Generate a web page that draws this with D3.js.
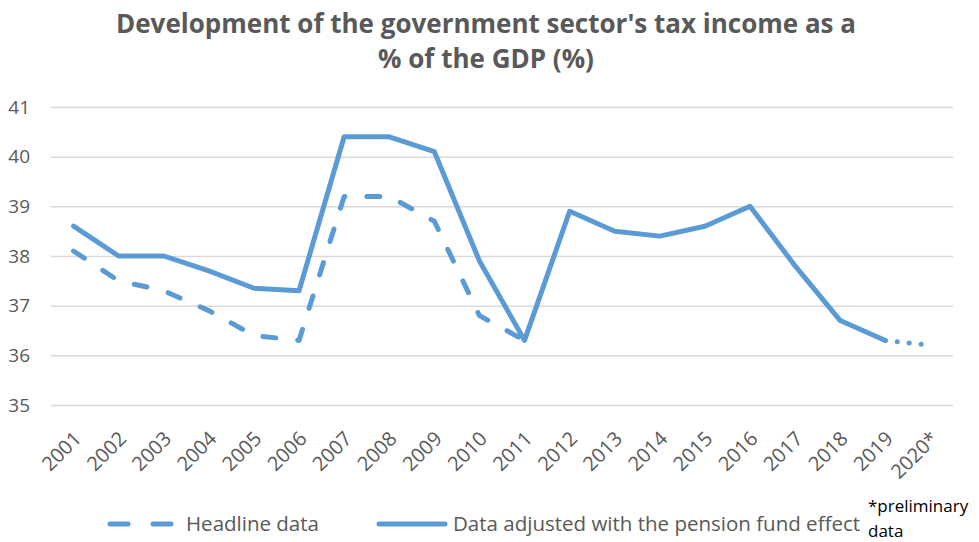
<!DOCTYPE html>
<html>
<head>
<meta charset="utf-8">
<script src="https://cdn.jsdelivr.net/npm/d3@7"></script>
<style>
  html, body { margin: 0; padding: 0; background: #fff; }
  svg { display: block; }
  text { font-family: "Open Sans", "Noto Sans", sans-serif; }
</style>
</head>
<body>
<svg id="chart" width="979" height="542"></svg>
<script>
// Tax income of the government sector, % of GDP
const years = ["2001","2002","2003","2004","2005","2006","2007","2008","2009","2010",
               "2011","2012","2013","2014","2015","2016","2017","2018","2019","2020*"];
const headline = [38.1, 37.5, 37.3, 36.9, 36.4, 36.3, 39.2, 39.2, 38.7, 36.8, 36.3];
const adjusted = [38.6, 38.0, 38.0, 37.7, 37.35, 37.3, 40.4, 40.4, 40.1, 37.9,
                  36.3, 38.9, 38.5, 38.4, 38.6, 39.0, 37.8, 36.7, 36.3, 36.2];
const yTicks = [35, 36, 37, 38, 39, 40, 41];
const titleLines = ["Development of the government sector's tax income as a", "% of the GDP (%)"];
const seriesNames = ["Headline data", "Data adjusted with the pension fund effect"];
const footnote = ["*preliminary", "data"];

const blue = "#5B9BD5";
const grey = "#595959";
const svg = d3.select("#chart");

const x = d3.scaleBand().domain(years).range([51, 953]);
const y = d3.scaleLinear().domain([35, 41]).range([405, 107]);
const cx = d => x(d) + x.bandwidth() / 2;

// title
svg.append("g").selectAll("text").data(titleLines).join("text")
  .attr("x", 486).attr("y", (d, i) => 33 + i * 35)
  .attr("text-anchor", "middle")
  .attr("font-size", 26).attr("font-weight", 700).attr("fill", grey)
  .text(d => d);

// gridlines + y labels
const yAxis = svg.append("g")
  .attr("transform", "translate(51,0)")
  .call(d3.axisLeft(y).tickValues(yTicks).tickFormat(d3.format("d"))
    .tickSize(-902).tickPadding(21));
yAxis.select(".domain").remove();
yAxis.selectAll(".tick line").attr("stroke", "#d9d9d9").attr("stroke-width", 1.5);
yAxis.selectAll(".tick text").attr("font-size", 19).attr("fill", grey)
  .attr("font-family", "'Open Sans', sans-serif");

// x labels, rotated
const xAxis = svg.append("g")
  .attr("transform", "translate(0,405)")
  .call(d3.axisBottom(x).tickSize(0).tickPadding(0));
xAxis.select(".domain").remove();
xAxis.selectAll(".tick text")
  .attr("font-size", 20).attr("fill", grey)
  .attr("font-family", "'Open Sans', sans-serif")
  .attr("text-anchor", "end")
  .attr("dy", "0.35em")
  .attr("transform", "translate(4,30) rotate(-45)");

const line = d3.line().x(d => cx(d.year)).y(d => y(d.value));

// headline series, dashed
const headPts = headline.map((v, i) => ({ year: years[i], value: v }));
svg.append("path").datum(headPts)
  .attr("d", line).attr("fill", "none")
  .attr("stroke", blue).attr("stroke-width", 5)
  .attr("stroke-linecap", "round").attr("stroke-linejoin", "round")
  .attr("stroke-dasharray", "13,22");

// adjusted series: solid up to 2019, dotted to the preliminary 2020 value
const adjPts = adjusted.map((v, i) => ({ year: years[i], value: v }));
const nSolid = adjPts.length - 1;
svg.append("path").datum(adjPts.slice(0, nSolid))
  .attr("d", line).attr("fill", "none")
  .attr("stroke", blue).attr("stroke-width", 5)
  .attr("stroke-linecap", "round").attr("stroke-linejoin", "round");
svg.append("path").datum(adjPts.slice(nSolid - 1))
  .attr("d", line).attr("fill", "none")
  .attr("stroke", blue).attr("stroke-width", 5)
  .attr("stroke-linecap", "round")
  .attr("stroke-dasharray", "0,12");

// legend
const lg = svg.append("g");
lg.append("line").attr("x1", 110).attr("x2", 171).attr("y1", 524).attr("y2", 524)
  .attr("stroke", blue).attr("stroke-width", 5).attr("stroke-linecap", "round")
  .attr("stroke-dasharray", "18,25");
lg.append("text").attr("x", 186).attr("y", 531).attr("font-size", 20.5).attr("fill", grey)
  .text(seriesNames[0]);
lg.append("line").attr("x1", 379).attr("x2", 445).attr("y1", 524).attr("y2", 524)
  .attr("stroke", blue).attr("stroke-width", 5).attr("stroke-linecap", "round");
lg.append("text").attr("x", 453).attr("y", 531).attr("font-size", 20.5).attr("fill", grey)
  .text(seriesNames[1]);

// footnote
svg.append("g").selectAll("text").data(footnote).join("text")
  .attr("x", 868).attr("y", (d, i) => 512 + i * 25)
  .attr("font-size", 17).attr("fill", "#000")
  .text(d => d);
</script>
</body>
</html>
